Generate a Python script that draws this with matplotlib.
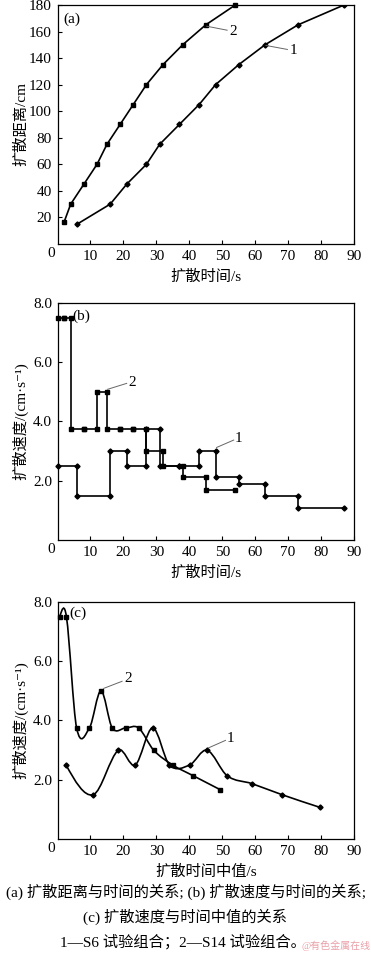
import numpy as np
import matplotlib
matplotlib.use("Agg")
import matplotlib.pyplot as plt
from matplotlib.path import Path
from matplotlib.patches import PathPatch

plt.rcParams['font.family'] = ['Liberation Serif', 'Noto Sans CJK SC', 'DejaVu Sans']
plt.rcParams['axes.unicode_minus'] = False

# ---------------- data ----------------
# (a) diffusion distance vs time
time1 = [6, 16, 21, 27, 31, 37, 43, 48, 55, 63, 73, 87]
dist1 = [15, 30, 45, 60, 75, 90, 105, 120, 135, 150, 165, 180]
time2 = [2, 4, 8, 12, 15, 19, 23, 27, 32, 38, 45, 54]
dist2 = [16.5, 30, 45, 60, 75, 90, 105, 120, 135, 150, 165, 180]

# (b) speed per interval (interval boundaries and speed)
bound1 = [0, 6, 16, 21, 27, 31, 37, 43, 48, 55, 63, 73, 87]
speed1 = [2.5, 1.5, 3.0, 2.5, 3.75, 2.5, 2.5, 3.0, 2.14, 1.875, 1.5, 1.07]
bound2 = [0, 2, 4, 8, 12, 15, 19, 23, 27, 32, 38, 45, 54]
speed2 = [7.5, 7.5, 3.75, 3.75, 5.0, 3.75, 3.75, 3.75, 3.0, 2.5, 2.14, 1.67]

# (c) speed vs median time
mid1 = [2.6, 10.8, 18.5, 23.6, 28.9, 34.0, 40.1, 45.4, 51.5, 59.0, 68.2, 79.8]
mspeed1 = [2.5, 1.5, 3.0, 2.5, 3.75, 2.5, 2.5, 3.0, 2.14, 1.875, 1.5, 1.07]
mid2 = [0.7, 2.7, 5.8, 9.7, 13.2, 16.6, 20.7, 24.6, 29.2, 35.0, 41.2, 49.4]
mspeed2 = [7.5, 7.5, 3.75, 3.75, 5.0, 3.75, 3.75, 3.75, 3.0, 2.5, 2.14, 1.67]

xticks = [10, 20, 30, 40, 50, 60, 70, 80, 90]
yticks_a = [20, 40, 60, 80, 100, 120, 140, 160, 180]
yticks_bc = [2.0, 4.0, 6.0, 8.0]

# ---------------- helpers ----------------
LW = 1.2
K = 'black'
FS = 11

def smooth_path(x, y):
    # Hermite curve through the points (finite-difference slopes), as Bezier path
    x = np.asarray(x, float); y = np.asarray(y, float)
    n = len(x)
    h = np.diff(x)
    d = np.zeros(n)
    for i in range(1, n - 1):
        d[i] = (y[i + 1] - y[i - 1]) / (x[i + 1] - x[i - 1])
    d[0] = 1.5 * (y[1] - y[0]) / h[0] - 0.5 * d[1]
    d[-1] = 1.5 * (y[-1] - y[-2]) / h[-1] - 0.5 * d[-2]
    verts = [(x[0], y[0])]
    codes = [Path.MOVETO]
    for i in range(n - 1):
        verts += [(x[i] + h[i] / 3, y[i] + d[i] * h[i] / 3),
                  (x[i + 1] - h[i] / 3, y[i + 1] - d[i + 1] * h[i] / 3),
                  (x[i + 1], y[i + 1])]
        codes += [Path.CURVE4] * 3
    return Path(verts, codes)

def steps(bounds, speeds):
    xs, ys = [], []
    for i, v in enumerate(speeds):
        xs += [bounds[i], bounds[i + 1]]
        ys += [v, v]
    return xs, ys

def style(ax, ylim, yticks, yfmt):
    ax.set_xlim(0, 90)
    ax.set_ylim(*ylim)
    ax.set_xticks(xticks)
    ax.set_yticks(yticks)
    ax.set_yticklabels([yfmt.format(v) for v in yticks])
    ax.tick_params(direction='in', length=3, width=0.8, labelsize=FS, pad=4)
    for s in ax.spines.values():
        s.set_linewidth(0.9)
    ax.text(-0.008, -0.012, '0', transform=ax.transAxes, ha='right', va='top', fontsize=FS)
    ax.yaxis.set_label_coords(-0.098, 0.5)
    ax.xaxis.set_label_coords(0.5, -0.108)

def leader(ax, p0, p1, txt, tp):
    ax.plot([p0[0], p1[0]], [p0[1], p1[1]], color='#666666', lw=0.7)
    ax.text(tp[0], tp[1], txt, fontsize=FS, ha='center', va='center')

MS_D, MS_S = 2.6, 3.5

fig = plt.figure(figsize=(3.71, 9.56), dpi=100)
L, W = 0.155, 0.799

# ---------------- (a) ----------------
ax = fig.add_axes([L, 0.7448, W, 0.2500])
ax.plot(time1, dist1, color=K, lw=LW, marker='D', ms=MS_D)
ax.plot(time2, dist2, color=K, lw=LW, marker='s', ms=MS_S, clip_on=False)
style(ax, (0, 180), yticks_a, '{:.0f}')
ax.set_xlabel('扩散时间/s', fontsize=FS)
ax.set_ylabel('扩散距离/cm', fontsize=FS)
ax.text(0.02, 0.94, '(a)', transform=ax.transAxes, fontsize=FS, ha='left', va='center')
leader(ax, (45.3, 164), (51.5, 161), '2', (53.4, 159.8))
leader(ax, (63.3, 149.5), (69.8, 146.5), '1', (71.6, 145.5))

# ---------------- (b) ----------------
ax = fig.add_axes([L, 0.4351, W, 0.2483])
xs, ys = steps(bound1, speed1)
ax.plot(xs, ys, color=K, lw=LW, marker='D', ms=MS_D, clip_on=False)
xs, ys = steps(bound2, speed2)
ax.plot(xs, ys, color=K, lw=LW, marker='s', ms=MS_S, clip_on=False)
style(ax, (0, 8), yticks_bc, '{:.1f}')
ax.set_xlabel('扩散时间/s', fontsize=FS)
ax.set_ylabel('扩散速度/(cm·s⁻¹)', fontsize=FS)
ax.text(4.5, 7.55, '(b)', fontsize=FS, ha='left', va='center')
leader(ax, (15.2, 5.08), (21.0, 5.28), '2', (22.6, 5.32))
leader(ax, (48.3, 3.12), (53.5, 3.37), '1', (55.0, 3.43))

# ---------------- (c) ----------------
ax = fig.add_axes([L, 0.1221, W, 0.2485])
ax.add_patch(PathPatch(smooth_path(mid1, mspeed1), fill=False, lw=LW, ec=K))
ax.add_patch(PathPatch(smooth_path(mid2, mspeed2), fill=False, lw=LW, ec=K))
ax.plot(mid1, mspeed1, ls='none', color=K, marker='D', ms=MS_D)
ax.plot(mid2, mspeed2, ls='none', color=K, marker='s', ms=MS_S, clip_on=False)
style(ax, (0, 8), yticks_bc, '{:.1f}')
ax.set_xlabel('扩散时间中值/s', fontsize=FS)
ax.set_ylabel('扩散速度/(cm·s⁻¹)', fontsize=FS)
ax.text(3.6, 7.6, '(c)', fontsize=FS, ha='left', va='center')
leader(ax, (14.0, 5.08), (19.6, 5.32), '2', (21.4, 5.4))
leader(ax, (45.9, 3.08), (51.0, 3.33), '1', (52.6, 3.38))

# ---------------- captions ----------------
fig.text(0.502, 1 - 891.5 / 956, '(a) 扩散距离与时间的关系; (b) 扩散速度与时间的关系;',
         ha='center', va='center', fontsize=11)
fig.text(0.499, 1 - 917 / 956, '(c) 扩散速度与时间中值的关系',
         ha='center', va='center', fontsize=11)
fig.text(0.492, 1 - 941.5 / 956, '1—S6 试验组合；2—S14 试验组合。',
         ha='center', va='center', fontsize=11)
fig.text(302 / 371, 1 - 946 / 956, '@有色金属在线', ha='left', va='center',
         fontsize=7.2, color='#eaa0a8')

fig.savefig('out.png', dpi=100)
